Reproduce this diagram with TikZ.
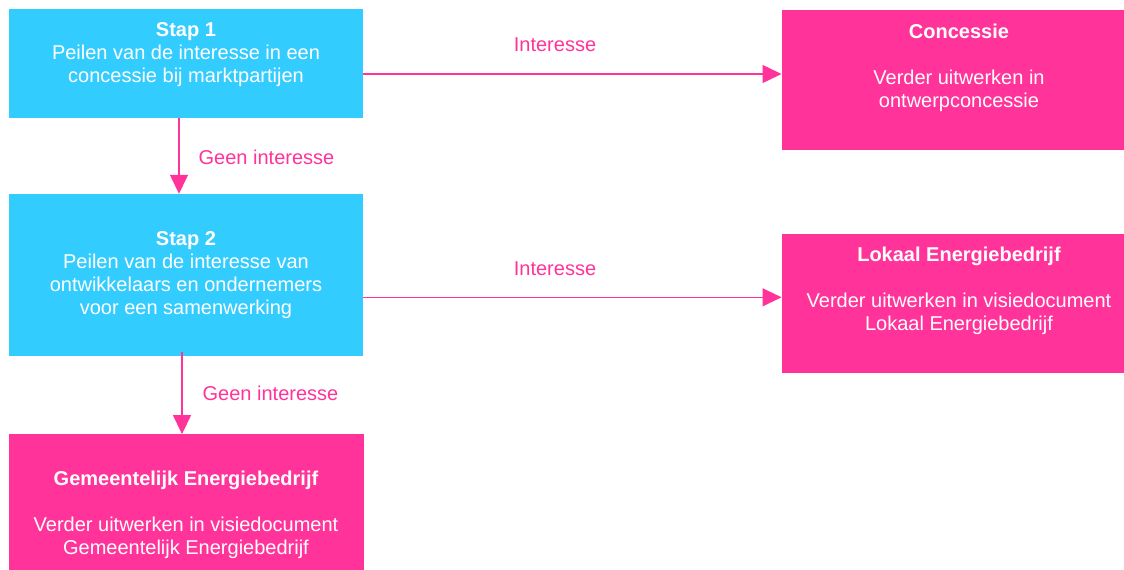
\documentclass[tikz,border=0pt]{standalone}
\usepackage{fontspec}
\setmainfont{Liberation Sans}
\usetikzlibrary{arrows.meta}
\definecolor{boxcyan}{HTML}{33CCFF}
\definecolor{boxpink}{HTML}{FF3399}
\tikzset{
  cyanbox/.style={fill=boxcyan, draw=none, inner sep=0pt},
  pinkbox/.style={fill=boxpink, draw=none, inner sep=0pt},
  boxtext/.style={text=white, align=center, inner sep=0pt, font=\fontsize{20}{23}\selectfont},
  lbl/.style={text=boxpink, inner sep=0pt, font=\fontsize{20}{23}\selectfont},
  conn/.style={draw=boxpink, line width=1.3pt, -{Triangle[length=19pt,width=18pt]}}
}
\begin{document}
\begin{tikzpicture}[x=1pt,y=-1pt]
\useasboundingbox (0,0) rectangle (1124,570);
% boxes
\node[cyanbox, minimum width=354pt, minimum height=108.5pt] (s1) at (186,63.25) {};
\node[cyanbox, minimum width=354pt, minimum height=161.7pt] (s2) at (186,274.85) {};
\node[pinkbox, minimum width=342.3pt, minimum height=139.7pt] (c) at (952.85,79.85) {};
\node[pinkbox, minimum width=342.3pt, minimum height=138.7pt] (l) at (952.85,303.35) {};
\node[pinkbox, minimum width=354.7pt, minimum height=135.7pt] (g) at (186.35,502.15) {};
% texts
\node[boxtext] (s1t) at (186,55) {\textbf{Stap 1}\\Peilen van de interesse in een\\concessie bij marktpartijen};
\node[boxtext] (s2t) at (186,275) {\textbf{Stap 2}\\Peilen van de interesse van\\ontwikkelaars en ondernemers\\voor een samenwerking};
\node[boxtext] (ct) at (959,68) {\textbf{Concessie}\\[23pt]Verder uitwerken in\\ontwerpconcessie};
\node[boxtext] (lt) at (959,291) {\textbf{Lokaal Energiebedrijf}\\[23pt]Verder uitwerken in visiedocument\\Lokaal Energiebedrijf};
\node[boxtext] (gt) at (186,515) {\textbf{Gemeentelijk Energiebedrijf}\\[23pt]Verder uitwerken in visiedocument\\Gemeentelijk Energiebedrijf};
% connectors
\draw[conn] ([yshift=-10.75pt]s1.east) -- ([yshift=-10.75pt]s1.east -| c.west);
\draw[conn] ([xshift=-7pt]s1.south) -- ([xshift=-7pt]s1.south |- s2.north);
\draw[conn] ([yshift=-22.45pt]s2.east) -- ([yshift=-22.45pt]s2.east -| l.west);
\draw[conn] ([xshift=-4pt,yshift=3.7pt]s2.south) -- ([xshift=-4pt]s2.south |- g.north);
% labels
\node[lbl] (i1) at (555,45) {Interesse};
\node[lbl] (i2) at (555,269) {Interesse};
\node[lbl] (g1) at (266.5,157) {Geen interesse};
\node[lbl] (g2) at (270.5,393) {Geen interesse};
\end{tikzpicture}
\end{document}
